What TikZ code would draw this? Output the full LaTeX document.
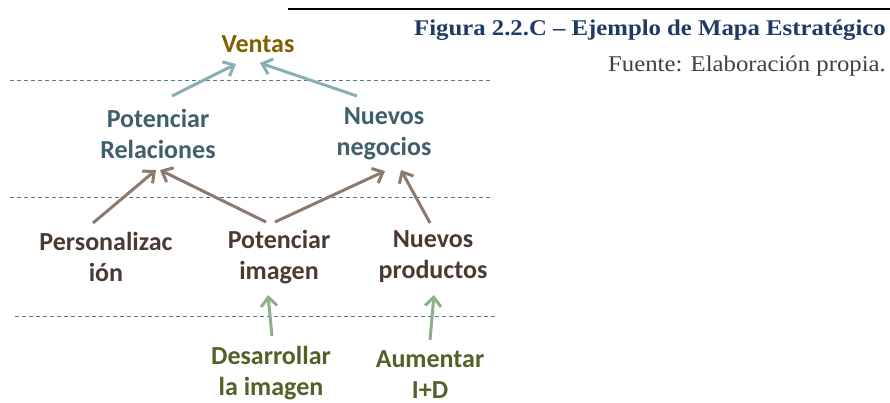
\documentclass[tikz,border=0pt]{standalone}
\usepackage{fontspec}
\setmainfont{Carlito}
\newfontfamily\capfont[FakeStretch=1.1]{Liberation Serif}
\usetikzlibrary{arrows.meta}
\definecolor{olivetxt}{HTML}{7F6000}
\definecolor{tealtxt}{HTML}{3F5F6A}
\definecolor{browntxt}{HTML}{4A3A32}
\definecolor{greentxt}{HTML}{4F6228}
\definecolor{tealarr}{HTML}{8AAFB2}
\definecolor{brownarr}{HTML}{8B7A70}
\definecolor{greenarr}{HTML}{8DB08A}
\definecolor{dashcol}{HTML}{4F7C8E}
\definecolor{capblue}{HTML}{1F3A64}
\definecolor{fuente}{HTML}{404040}
\tikzset{
  lbl/.style={font=\fontsize{26}{31}\selectfont\bfseries, align=center, inner sep=0pt},
  sep/.style={dashcol, dashed, dash pattern=on 4pt off 3pt, line width=1pt},
  arr/.style={line width=3pt, -{Straight Barb[length=9pt, width=16pt, line width=3pt]}},
}
\begin{document}
\begin{tikzpicture}[x=1pt, y=-1pt]
\useasboundingbox (0,0) rectangle (890,402);
% top rule and caption
\coordinate (r1) at (288,9);
\coordinate (r2) at (890,9);
\draw[line width=2pt] (r1) -- (r2);
\node[anchor=east, inner sep=0pt, text=capblue, font=\capfont\bfseries\fontsize{22.5}{26}\selectfont] (cap) at (886,30) {Figura 2.2.C – Ejemplo de Mapa Estratégico};
\node[anchor=east, inner sep=0pt, text=fuente, font=\capfont\fontsize{22.5}{26}\selectfont] (src) at (886,66) {Fuente: Elaboración propia.};
% separators
\coordinate (d1a) at (10,80);  \coordinate (d1b) at (493,80);
\coordinate (d2a) at (10,197); \coordinate (d2b) at (493,197);
\coordinate (d3a) at (15,316); \coordinate (d3b) at (497,316);
\draw[sep] (d1a) -- (d1b);
\draw[sep] (d2a) -- (d2b);
\draw[sep] (d3a) -- (d3b);
% nodes
\node[lbl, text=olivetxt] (ventas) at (258,44) {Ventas};
\node[lbl, text=tealtxt] (rel) at (158,134) {Potenciar\\Relaciones};
\node[lbl, text=tealtxt] (neg) at (384,134) {Nuevos\\negocios};
\node[lbl, text=browntxt] (pers) at (106,257) {Personalizac\\ión};
\node[lbl, text=browntxt] (img) at (279,257) {Potenciar\\imagen};
\node[lbl, text=browntxt] (prod) at (433,257) {Nuevos\\productos};
\node[lbl, text=greentxt] (des) at (271,373) {Desarrollar\\la imagen};
\node[lbl, text=greentxt] (id) at (430,375) {Aumentar\\I+D};
% arrow anchor points
\coordinate (t1s) at (172,96);  \coordinate (t1e) at (236,64);
\coordinate (t2s) at (357,96);  \coordinate (t2e) at (260,63);
\coordinate (b1s) at (93,223);  \coordinate (b1e) at (156,170);
\coordinate (b2s) at (266,222); \coordinate (b2e) at (160,170);
\coordinate (b3s) at (275,222); \coordinate (b3e) at (385,171);
\coordinate (b4s) at (430,223); \coordinate (b4e) at (401,170);
\coordinate (g1s) at (272,336); \coordinate (g1e) at (268,295);
\coordinate (g2s) at (430,340); \coordinate (g2e) at (434,295);
\draw[arr, tealarr] (t1s) -- (t1e);
\draw[arr, tealarr] (t2s) -- (t2e);
\draw[arr, brownarr] (b1s) -- (b1e);
\draw[arr, brownarr] (b2s) -- (b2e);
\draw[arr, brownarr] (b3s) -- (b3e);
\draw[arr, brownarr] (b4s) -- (b4e);
\draw[arr, greenarr] (g1s) -- (g1e);
\draw[arr, greenarr] (g2s) -- (g2e);
\end{tikzpicture}
\end{document}
